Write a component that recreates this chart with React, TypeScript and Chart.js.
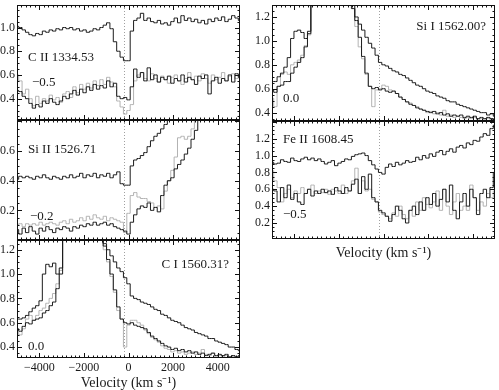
import { useEffect, useRef } from "react";
import { Chart, registerables } from "chart.js";

Chart.register(...registerables);

// ---------- data ----------
const BIN_COUNT = 67;
const V_MIN = -5000;
const V_MAX = 5000;
const VELOCITY = Array.from({ length: BIN_COUNT }, (_, i) => V_MIN + (i * (V_MAX - V_MIN)) / (BIN_COUNT - 1));
const X_TICKS = [-4000, -2000, 0, 2000, 4000];
const LINE_CENTER = -210;

// C II 1334.53
const CII_TOP = [
  1.01, 1.0, 0.98, 0.96, 0.94, 0.93, 0.95, 0.94, 0.97, 0.96,
  0.98, 0.97, 0.99, 0.98, 1.0, 0.99, 1.0, 0.98, 0.99, 0.97,
  0.98, 0.96, 0.97, 0.99, 0.98, 1.0, 1.02, 1.04, 0.99, 0.88,
  0.8, 0.75, 0.72, 0.72, 0.97, 1.06, 1.08, 1.12, 1.06, 1.08,
  1.05, 1.04, 1.06, 1.03, 1.04, 1.02, 1.05, 1.08, 1.04, 1.1,
  1.06, 1.08, 1.05, 1.07, 1.04, 1.06, 1.03, 1.07, 1.05, 1.08,
  1.06, 1.09, 1.05, 1.07, 1.1, 1.08, 1.06,
];
const CII_LOW = [
  0.47, 0.46, 0.42, 0.4, 0.36, 0.32, 0.35, 0.33, 0.38, 0.36,
  0.4, 0.37, 0.35, 0.38, 0.42, 0.4, 0.44, 0.47, 0.43, 0.48,
  0.45, 0.5, 0.47, 0.52, 0.48, 0.51, 0.49, 0.55, 0.5, 0.53,
  0.42, 0.4, 0.41, 0.39, 0.5, 0.65, 0.58, 0.62, 0.55, 0.66,
  0.56, 0.6, 0.54, 0.58, 0.56, 0.59, 0.53, 0.57, 0.55, 0.6,
  0.54, 0.58, 0.56, 0.52, 0.59, 0.57, 0.6, 0.44, 0.55, 0.58,
  0.53, 0.57, 0.55, 0.6, 0.54, 0.61, 0.58,
];
const CII_ALT = [
  0.6, 0.55, 0.44, 0.48, 0.4, 0.34, 0.42, 0.36, 0.4, 0.38,
  0.43, 0.39, 0.41, 0.37, 0.44, 0.46, 0.41, 0.5, 0.45, 0.52,
  0.48, 0.53, 0.49, 0.55, 0.51, 0.56, 0.52, 0.58, 0.54, 0.5,
  0.38, 0.33, 0.27, 0.3, 0.35, 0.55, 0.6, 0.62, 0.57, 0.55,
  0.61, 0.57, 0.54, 0.59, 0.56, 0.53, 0.58, 0.6, 0.55, 0.52,
  0.57, 0.62, 0.56, 0.59, 0.55, 0.61, 0.57, 0.53, 0.6, 0.56,
  0.58, 0.62, 0.55, 0.59, 0.61, 0.57, 0.6,
];

// Si II 1526.71
const SIII_TOP = [
  0.41, 0.43, 0.42, 0.43, 0.42, 0.41, 0.43, 0.42, 0.44, 0.42,
  0.41, 0.43, 0.42, 0.41, 0.43, 0.42, 0.44, 0.42, 0.43, 0.45,
  0.42, 0.44, 0.43, 0.45, 0.42, 0.44, 0.43, 0.45, 0.42, 0.44,
  0.46, 0.38, 0.37, 0.37, 0.5, 0.54, 0.55, 0.57, 0.59, 0.63,
  0.67, 0.7, 0.72, 0.75, 0.78, 0.82, 0.9, 0.95, null, null,
  null, null, null, null, null, null, null, null, null, null,
  null, null, null, null, null, null, null,
];
const SIII_LOW = [
  0.07, 0.04, 0.08, 0.05, 0.09, 0.06, 0.04, 0.08, 0.06, 0.09,
  0.07, 0.05, 0.08, 0.07, 0.09, 0.08, 0.06, 0.09, 0.08, 0.1,
  0.09, 0.11, 0.1, 0.12, 0.1, 0.11, 0.12, 0.1, 0.11, 0.09,
  0.08, 0.07, 0.06, 0.04, 0.12, 0.17, 0.21, 0.23, 0.22, 0.25,
  0.2, 0.22, 0.19, 0.3, 0.37, 0.4, 0.42, 0.48, 0.51, 0.54,
  0.58, 0.62, 0.68, 0.74, 0.85, 0.95, null, null, null, null,
  null, null, null, null, null, null, null,
];
const SIII_ALT = [
  0.1, 0.11, 0.09, 0.11, 0.1, 0.11, 0.1, 0.12, 0.1, 0.11,
  0.12, 0.11, 0.1, 0.12, 0.13, 0.11, 0.14, 0.12, 0.13, 0.15,
  0.13, 0.16, 0.14, 0.17, 0.15, 0.14, 0.16, 0.13, 0.15, 0.14,
  0.13, 0.12, 0.05, 0.18, 0.3, 0.32, 0.29, 0.28, 0.28, 0.26,
  0.25, 0.22, 0.23, 0.21, 0.33, 0.4, 0.47, 0.56, 0.69, 0.7,
  0.68, 0.7, 0.75, 0.85, null, null, null, null, null, null,
  null, null, null, null, null, null, null,
];

// C I 1560.31?
const CI_OUTER = [
  0.63, 0.63, 0.64, 0.66, 0.69, 0.72, 0.74, 0.78, 1.0, 1.08,
  1.06, 1.09, 1.0, 1.05, 1.4, 1.6, 1.9, 2.2, 2.5, 2.7,
  2.7, 2.5, 2.2, 1.9, 1.6, 1.35, 1.25, 1.2, 1.15, 1.1,
  1.05, 1.02, 0.97, 0.92, 0.82, 0.8, 0.79, 0.77, 0.76, 0.75,
  0.73, 0.71, 0.7, 0.67, 0.66, 0.64, 0.62, 0.61, 0.6, 0.58,
  0.56, 0.55, 0.54, 0.52, 0.51, 0.5, 0.49, 0.47, 0.47, 0.45,
  0.44, 0.43, 0.42, 0.4, 0.4, 0.38, 0.37,
];
const CI_INNER = [
  0.55, 0.53, 0.57, 0.6, 0.59, 0.62, 0.63, 0.64, 0.68, 0.7,
  0.74, 0.77, 0.88, 1.0, 1.4, 1.6, 1.9, 2.2, 2.5, 2.7,
  2.7, 2.5, 2.2, 1.9, 1.6, 1.38, 1.23, 1.12, 1.0, 0.87,
  0.73, 0.63, 0.6, 0.59, 0.6, 0.58, 0.57, 0.56, 0.55, 0.52,
  0.49, 0.47, 0.45, 0.43, 0.41, 0.4, 0.38, 0.39, 0.37, 0.38,
  0.36, 0.37, 0.35, 0.36, 0.34, 0.35, 0.33, 0.34, 0.35, 0.33,
  0.34, 0.33, 0.34, 0.32, 0.33, 0.32, 0.33,
];
const CI_ALT = [
  0.52, 0.5, 0.55, 0.63, 0.66, 0.62, 0.66, 0.7, 0.72, 0.76,
  0.8, 0.84, 0.92, 1.03, 1.4, 1.6, 1.9, 2.2, 2.5, 2.7,
  2.7, 2.5, 2.2, 1.9, 1.6, 1.35, 1.2, 1.1, 0.98, 0.85,
  0.7, 0.63, 0.4, 0.58, 0.62, 0.62, 0.6, 0.58, 0.54, 0.51,
  0.48, 0.46, 0.44, 0.41, 0.39, 0.38, 0.36, 0.37, 0.35, 0.36,
  0.34, 0.35, 0.36, 0.34, 0.35, 0.38, 0.34, 0.33, 0.35, 0.32,
  0.33, 0.32, 0.33, 0.31, 0.32, 0.31, 0.32,
];

// Si I 1562.00?
const SII_OUTER = [
  0.66, 0.66, 0.7, 0.73, 0.78, 0.86, 1.02, 1.08, 1.09, 1.07,
  1.02, 1.08, 1.4, 1.6, 1.9, 2.2, 2.5, 2.7, 2.7, 2.5,
  2.2, 1.9, 1.6, 1.4, 1.27, 1.2, 1.14, 1.09, 1.03, 0.98,
  0.94, 0.88, 0.82, 0.8, 0.79, 0.77, 0.75, 0.74, 0.72, 0.71,
  0.69, 0.67, 0.65, 0.63, 0.62, 0.6, 0.58, 0.57, 0.56, 0.54,
  0.53, 0.52, 0.5, 0.49, 0.49, 0.47, 0.46, 0.45, 0.44, 0.43,
  0.42, 0.41, 0.4, 0.4, 0.38, 0.39, 0.37,
];
const SII_INNER = [
  0.59, 0.57, 0.62, 0.63, 0.66, 0.66, 0.73, 0.78, 0.82, 0.86,
  0.95, 1.06, 1.4, 1.6, 1.9, 2.2, 2.5, 2.7, 2.7, 2.5,
  2.2, 1.9, 1.6, 1.4, 1.3, 1.17, 1.03, 0.87, 0.73, 0.62,
  0.6, 0.61, 0.59, 0.6, 0.58, 0.57, 0.58, 0.56, 0.53, 0.51,
  0.49, 0.47, 0.46, 0.44, 0.43, 0.42, 0.41, 0.4, 0.41, 0.39,
  0.4, 0.38, 0.39, 0.37, 0.38, 0.37, 0.38, 0.36, 0.37, 0.36,
  0.37, 0.35, 0.36, 0.35, 0.36, 0.35, 0.34,
];
const SII_ALT = [
  0.52, 0.45, 0.62, 0.72, 0.74, 0.72, 0.8, 0.82, 0.84, 0.88,
  0.96, 1.05, 1.4, 1.6, 1.9, 2.2, 2.5, 2.7, 2.7, 2.5,
  2.2, 1.9, 1.6, 1.4, 1.3, 1.12, 0.95, 0.85, 0.72, 0.62,
  0.45, 0.59, 0.6, 0.63, 0.62, 0.59, 0.58, 0.56, 0.53, 0.51,
  0.49, 0.48, 0.46, 0.45, 0.43, 0.42, 0.4, 0.41, 0.39, 0.4,
  0.38, 0.42, 0.37, 0.38, 0.36, 0.37, 0.36, 0.35, 0.36, 0.35,
  0.36, 0.34, 0.35, 0.34, 0.35, 0.34, 0.35,
];

// Fe II 1608.45
const FEII_TOP = [
  0.92, 0.9, 0.91, 0.95, 0.93, 0.92, 0.97, 0.94, 0.93, 0.96,
  0.98, 0.95, 0.97, 0.94, 0.96, 0.93, 0.9, 0.92, 0.94, 0.88,
  0.91, 0.93, 0.96, 0.95, 0.99, 1.01, 1.02, 1.03, 1.0, 0.94,
  0.89, 0.84, 0.8, 0.78, 0.86, 0.9, 0.87, 0.92, 0.89, 0.91,
  0.94, 0.92, 0.93, 0.98, 0.95, 1.0, 0.97, 1.02, 0.99, 1.04,
  1.06, 1.01, 1.05, 1.08, 1.04, 1.1, 1.12, 1.09, 1.15, 1.13,
  1.18, 1.17, 1.22, 1.26, 1.24, 1.32, 1.36,
];
const FEII_LOW = [
  0.6, 0.58, 0.45, 0.62, 0.5, 0.65, 0.48, 0.55, 0.45, 0.42,
  0.55, 0.6, 0.52, 0.58, 0.55, 0.6, 0.56, 0.58, 0.54, 0.62,
  0.58, 0.55, 0.62, 0.58, 0.66, 0.72, 0.55, 0.75, 0.6, 0.78,
  0.5, 0.45, 0.35, 0.32, 0.28, 0.22, 0.3, 0.4, 0.35, 0.25,
  0.2, 0.35, 0.4, 0.3, 0.45, 0.35, 0.5, 0.42, 0.55, 0.4,
  0.48, 0.6, 0.45, 0.65, 0.35, 0.25, 0.45, 0.55, 0.4, 0.6,
  0.5, 0.3, 0.55, 0.6, 0.5, 0.62, 0.8,
];
const FEII_ALT = [
  0.82, 0.7, 0.62, 0.45, 0.55, 0.6, 0.5, 0.58, 0.55, 0.62,
  0.55, 0.6, 0.65, 0.55, 0.58, 0.56, 0.6, 0.54, 0.6, 0.58,
  0.55, 0.65, 0.55, 0.58, 0.7, 0.85, 0.55, 0.7, 0.58, 0.6,
  0.48, 0.45, 0.33, 0.3, 0.28, 0.25, 0.32, 0.28, 0.4, 0.3,
  0.25, 0.35, 0.28, 0.45, 0.35, 0.5, 0.42, 0.38, 0.45, 0.58,
  0.35, 0.6, 0.4, 0.3, 0.45, 0.55, 0.35, 0.4, 0.35, 0.65,
  0.5, 0.35, 0.45, 0.4, 0.55, 0.5, 0.58,
];

const CII_Y_TICKS = [0.4, 0.6, 0.8, 1.0];
const SIII_Y_TICKS = [0.2, 0.4, 0.6];
const CI_Y_TICKS = [0.4, 0.6, 0.8, 1.0, 1.2];
const SII_Y_TICKS = [0.4, 0.6, 0.8, 1.0, 1.2];
const FEII_Y_TICKS = [0.2, 0.4, 0.6, 0.8, 1.0, 1.2];

// ---------- styles ----------
const BLACK = "#1c1c1c";
const GRAY = "#b3b3b3";
const SERIF = '"Liberation Serif", "Times New Roman", serif';

type Label = { text: string; x: number; y: number; right?: boolean };
type PanelCfg = {
  left: number;
  top: number;
  width: number;
  height: number;
  axisWidth: number;
  padRight: number;
  padTop: number;
  padBottom: number;
  xMode: "none" | "title" | "full";
  xHeight: number;
  yMin: number;
  yMax: number;
  yTicks: number[];
  series: { values: (number | null)[]; color: string }[];
  labels: Label[];
};

function Panel({ cfg }: { cfg: PanelCfg }) {
  const ref = useRef<HTMLCanvasElement>(null);
  useEffect(() => {
    const canvas = ref.current;
    if (!canvas) return;
    const deco = {
      id: "deco",
      beforeDatasetsDraw(chart: any) {
        const { ctx, chartArea: a } = chart;
        const x = chart.scales.x;
        const px = Math.round(x.getPixelForValue(LINE_CENTER)) + 0.5;
        ctx.save();
        ctx.strokeStyle = "#a0a0a0";
        ctx.lineWidth = 1;
        ctx.setLineDash([1, 2]);
        ctx.beginPath();
        ctx.moveTo(px, a.top);
        ctx.lineTo(px, a.bottom);
        ctx.stroke();
        ctx.restore();
      },
      afterDatasetsDraw(chart: any) {
        const { ctx, chartArea: a } = chart;
        const xs = chart.scales.x;
        const ys = chart.scales.y;
        ctx.save();
        ctx.strokeStyle = "#111";
        ctx.lineWidth = 1;
        ctx.strokeRect(Math.round(a.left) + 0.5, Math.round(a.top) + 0.5, Math.round(a.right - a.left) - 1, Math.round(a.bottom - a.top) - 1);
        ctx.beginPath();
        for (let v = V_MIN + 200; v < V_MAX; v += 200) {
          const len = v % 2000 === 0 ? 5 : 2.5;
          const px = Math.round(xs.getPixelForValue(v)) + 0.5;
          ctx.moveTo(px, a.bottom);
          ctx.lineTo(px, a.bottom - len);
          ctx.moveTo(px, a.top);
          ctx.lineTo(px, a.top + len);
        }
        const k0 = Math.ceil(cfg.yMin * 20);
        const k1 = Math.floor(cfg.yMax * 20);
        for (let k = k0; k <= k1; k++) {
          const py = Math.round(ys.getPixelForValue(k / 20)) + 0.5;
          if (py <= a.top + 1 || py >= a.bottom - 1) continue;
          const len = k % 4 === 0 ? 5 : 2.5;
          ctx.moveTo(a.left, py);
          ctx.lineTo(a.left + len, py);
          ctx.moveTo(a.right, py);
          ctx.lineTo(a.right - len, py);
        }
        ctx.stroke();
        ctx.fillStyle = "#1a1a1a";
        ctx.font = `13px ${SERIF}`;
        ctx.textBaseline = "middle";
        for (const l of cfg.labels) {
          if (l.right) {
            ctx.textAlign = "right";
            ctx.fillText(l.text, a.right + l.x, a.top + l.y);
          } else {
            ctx.textAlign = "left";
            ctx.fillText(l.text, a.left + l.x, a.top + l.y);
          }
        }
        ctx.restore();
      },
    };
    const chart = new Chart(canvas, {
      type: "line",
      data: {
        datasets: cfg.series.map((s) => ({
          data: VELOCITY.map((v, i) => ({ x: v, y: s.values[i] })),
          borderColor: s.color,
          borderWidth: 1,
          pointRadius: 0,
          stepped: "middle",
          fill: false,
          clip: 0,
          order: s.color === GRAY ? 2 : 1,
        })),
      } as any,
      options: {
        animation: false,
        responsive: false,
        maintainAspectRatio: false,
        devicePixelRatio: 1,
        events: [],
        layout: { padding: { top: cfg.padTop, right: cfg.padRight, bottom: cfg.padBottom, left: 0 } },
        plugins: { legend: { display: false }, tooltip: { enabled: false } },
        scales: {
          x: {
            type: "linear",
            min: V_MIN,
            max: V_MAX,
            display: cfg.xMode !== "none",
            grid: { display: false, drawTicks: false },
            border: { display: false },
            ticks: {
              display: cfg.xMode === "full",
              autoSkip: false,
              maxRotation: 0,
              padding: 3,
              color: "#1a1a1a",
              font: { family: SERIF, size: 12 },
              callback: (v: any) => (Number(v) < 0 ? "\u2212" + Math.abs(Number(v)) : String(v)),
            },
            title: {
              display: cfg.xMode !== "none",
              text: "Velocity (km s\u207B\u00B9)",
              color: "#1a1a1a",
              font: { family: SERIF, size: 14, lineHeight: 1 },
              padding: 0,
            },
            afterBuildTicks: (s: any) => {
              s.ticks = X_TICKS.map((v) => ({ value: v }));
            },
            afterFit: (s: any) => {
              s.height = cfg.xHeight;
              s.paddingLeft = 0;
              s.paddingRight = 0;
              s.paddingTop = 0;
              s.paddingBottom = 0;
            },
          },
          y: {
            type: "linear",
            min: cfg.yMin,
            max: cfg.yMax,
            grid: { display: false, drawTicks: false },
            border: { display: false },
            ticks: {
              autoSkip: false,
              padding: 2,
              color: "#1a1a1a",
              font: { family: SERIF, size: 12 },
              callback: (v: any) => Number(v).toFixed(1),
            },
            afterBuildTicks: (s: any) => {
              s.ticks = cfg.yTicks.map((v) => ({ value: v }));
            },
            afterFit: (s: any) => {
              s.width = cfg.axisWidth;
              s.paddingTop = 0;
              s.paddingBottom = 0;
              s.paddingLeft = 0;
              s.paddingRight = 0;
            },
          },
        },
      } as any,
      plugins: [deco],
    });
    return () => chart.destroy();
  }, [cfg]);
  return (
    <canvas
      ref={ref}
      width={cfg.width}
      height={cfg.height}
      style={{ position: "absolute", left: cfg.left, top: cfg.top, width: cfg.width, height: cfg.height }}
    />
  );
}

const PANELS: PanelCfg[] = [
  {
    left: 0, top: 3, width: 245, height: 119, axisWidth: 17, padRight: 5, padTop: 2, padBottom: 2,
    xMode: "none", xHeight: 0, yMin: 0.22, yMax: 1.19, yTicks: CII_Y_TICKS,
    series: [
      { values: CII_TOP, color: BLACK },
      { values: CII_LOW, color: BLACK },
      { values: CII_ALT, color: GRAY },
    ],
    labels: [
      { text: "C II 1334.53", x: 11, y: 53 },
      { text: "\u22120.5", x: 15, y: 78 },
    ],
  },
  {
    left: 0, top: 118, width: 245, height: 124, axisWidth: 17, padRight: 5, padTop: 2, padBottom: 2,
    xMode: "none", xHeight: 0, yMin: 0.0, yMax: 0.81, yTicks: SIII_Y_TICKS,
    series: [
      { values: SIII_TOP, color: BLACK },
      { values: SIII_LOW, color: BLACK },
      { values: SIII_ALT, color: GRAY },
    ],
    labels: [
      { text: "Si II 1526.71", x: 11, y: 30 },
      { text: "\u22120.2", x: 13, y: 97 },
    ],
  },
  {
    left: 0, top: 238, width: 245, height: 152, axisWidth: 17, padRight: 5, padTop: 2, padBottom: 0,
    xMode: "full", xHeight: 32, yMin: 0.31, yMax: 1.28, yTicks: CI_Y_TICKS,
    series: [
      { values: CI_OUTER, color: BLACK },
      { values: CI_INNER, color: BLACK },
      { values: CI_ALT, color: GRAY },
    ],
    labels: [
      { text: "C I 1560.31?", x: -11, y: 25, right: true },
      { text: "0.0", x: 11, y: 107 },
    ],
  },
  {
    left: 250, top: 3, width: 249, height: 120, axisWidth: 22, padRight: 4, padTop: 2, padBottom: 2,
    xMode: "none", xHeight: 0, yMin: 0.33, yMax: 1.3, yTicks: SII_Y_TICKS,
    series: [
      { values: SII_OUTER, color: BLACK },
      { values: SII_INNER, color: BLACK },
      { values: SII_ALT, color: GRAY },
    ],
    labels: [
      { text: "Si I 1562.00?", x: -9, y: 22, right: true },
      { text: "0.0", x: 11, y: 94 },
    ],
  },
  {
    left: 250, top: 119, width: 249, height: 141, axisWidth: 22, padRight: 4, padTop: 2, padBottom: 0,
    xMode: "title", xHeight: 21, yMin: 0.01, yMax: 1.41, yTicks: FEII_Y_TICKS,
    series: [
      { values: FEII_TOP, color: BLACK },
      { values: FEII_LOW, color: BLACK },
      { values: FEII_ALT, color: GRAY },
    ],
    labels: [
      { text: "Fe II 1608.45", x: 11, y: 19 },
      { text: "\u22120.5", x: 11, y: 94 },
    ],
  },
];

export default function App() {
  return (
    <div style={{ position: "absolute", left: 0, top: 0, width: 499, height: 390, background: "#fff" }}>
      {PANELS.map((p, i) => (
        <Panel key={i} cfg={p} />
      ))}
    </div>
  );
}
